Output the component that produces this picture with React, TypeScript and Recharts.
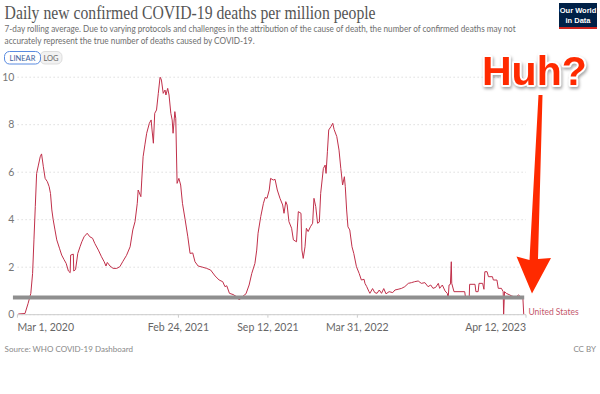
import { CartesianGrid, Line, LineChart, ReferenceLine, XAxis, YAxis } from 'recharts';

// days since Mar 1, 2020 (as drawn on the axis)
const days = [
  2, 17, 24, 30, 34, 37, 40, 43, 47, 51, 54, 58, 62, 67, 71, 74, 77, 80, 84, 88, 94, 99, 104, 109, 114, 118, 119,
  125, 126, 130, 135, 140, 144, 149, 156, 162, 168, 173, 181, 188, 194, 198, 201, 207, 214, 222, 229, 236, 244, 252,
  258, 263, 268, 270, 276, 278, 281, 285, 289, 295, 299, 301, 304, 307, 311, 315, 319, 322, 326, 330, 332, 336, 339,
  343, 346, 348, 352, 354, 357, 361, 365, 369, 375, 381, 386, 392, 397, 404, 414, 423, 432, 442, 451, 459, 464, 468,
  474, 482, 490, 496, 503, 511, 518, 524, 531, 535, 538, 544, 550, 554, 558, 563, 566, 572, 576, 581, 587, 593, 596,
  600, 603, 607, 613, 617, 624, 628, 634, 636, 639, 643, 646, 650, 655, 660, 663, 667, 671, 675, 678, 684, 688, 690,
  693, 696, 701, 705, 708, 714, 719, 723, 727, 731, 733, 736, 739, 743, 748, 752, 758, 764, 769, 775, 777, 781, 786,
  788, 794, 799, 804, 809, 814, 819, 824, 831, 839, 844, 851, 859, 866, 874, 881, 888, 896, 903, 911, 918, 924, 929,
  935, 941, 944, 950, 956, 961, 963, 965, 968, 970, 971, 976, 1000, 1002, 1010, 1011, 1023, 1025, 1030, 1032, 1040,
  1043, 1045, 1050, 1053, 1062, 1064, 1072, 1075, 1082, 1086, 1087, 1089, 1093, 1104, 1114, 1120, 1127, 1130, 1132,
];

// daily deaths per million, 7-day average
const deaths = [
  0.03, 0.05, 0.48, 0.9, 1.74, 3.15, 4.55, 5.95, 6.3, 6.65, 6.77, 6.23, 5.74, 5.6, 5.39, 5.1, 4.41, 4.0, 3.57, 3.15,
  2.8, 2.51, 2.33, 2.16, 1.84, 1.77, 2.51, 2.55, 1.84, 1.9, 2.58, 2.86, 3.07, 3.28, 3.43, 3.28, 3.22, 3.0, 2.72, 2.44,
  2.23, 2.05, 2.2, 2.05, 1.95, 1.95, 2.02, 2.25, 2.5, 2.86, 3.57, 3.92, 4.69, 5.25, 4.97, 5.67, 6.65, 7.15, 7.64, 8.06,
  8.2, 7.78, 7.22, 8.48, 8.62, 9.32, 10.02, 9.88, 9.32, 9.46, 9.25, 9.53, 9.25, 8.48, 8.2, 7.64, 8.55, 8.27, 5.53,
  5.74, 5.46, 4.69, 4.0, 3.28, 2.58, 2.6, 2.23, 2.05, 2.0, 1.95, 1.88, 1.63, 1.46, 1.39, 1.18, 1.22, 0.9, 0.85, 0.76,
  0.62, 0.76, 0.88, 1.25, 1.74, 2.16, 2.72, 3.43, 4.13, 4.69, 4.94, 4.9, 5.25, 5.74, 5.67, 5.7, 5.25, 4.9, 4.62, 4.27,
  4.76, 4.62, 3.92, 3.64, 3.15, 3.07, 4.34, 4.27, 2.72, 2.37, 2.86, 3.64, 3.5, 3.7, 3.85, 4.9, 4.55, 3.85, 3.9, 5.11,
  6.16, 6.3, 5.95, 6.86, 7.78, 7.92, 8.06, 7.8, 7.5, 6.93, 6.16, 5.46, 5.81, 5.39, 4.41, 3.7, 3.57, 2.86, 2.58, 2.02,
  1.74, 1.46, 1.49, 1.32, 1.18, 0.97, 0.9, 1.1, 0.93, 0.9, 1.04, 0.9, 1.1, 0.88, 0.97, 0.93, 1.04, 1.07, 1.11, 1.18,
  1.32, 1.35, 1.39, 1.42, 1.32, 1.35, 1.18, 1.25, 1.11, 1.15, 1.32, 1.11, 1.25, 1.0, 0.9, 0.69, 1.25, 1.28, 2.23,
  1.32, 0.97, 0.97, 0.69, 0.69, 1.28, 1.28, 0.97, 0.97, 1.32, 1.32, 1.07, 1.81, 1.81, 1.6, 1.6, 1.46, 1.46, 1.11,
  1.11, 0.97, 0, 0.97, 0.9, 0.8, 0.72, 0.83, 0.72, 0.72, 0,
];

const yTicks = [0, 2, 4, 6, 8, 10];
const xTickDays = [0, 360, 560, 760, 1137];
const xTickLabels = ['Mar 1, 2020', 'Feb 24, 2021', 'Sep 12, 2021', 'Mar 31, 2022', 'Apr 12, 2023'];
const markedLevel = 0.72;
const markedFrom = -10;
const markedTo = 1133;

const chartData = days.map((day, i) => ({ day, deaths: deaths[i] }));

const LINE_COLOR = '#c0304a';
const ARROW_RED = '#ff2a00';
const SANS = 'Lato, "Noto Sans", sans-serif';

function DateTick(props: any) {
  const { x, y, payload, index } = props;
  const anchor = index === 0 ? 'start' : index === xTickDays.length - 1 ? 'end' : 'middle';
  const label = xTickLabels[xTickDays.indexOf(payload.value)] ?? '';
  return (
    <text x={x} y={y} dy="0.71em" textAnchor={anchor} fill="#666" fontSize={10.5} fontFamily={SANS}>
      {label}
    </text>
  );
}

export default function App() {
  return (
    <div style={{ position: 'absolute', left: 0, top: 0, width: 600, height: 394, background: '#fff', overflow: 'hidden' }}>
      <LineChart
        width={600}
        height={394}
        data={chartData}
        margin={{ top: 77.2, right: 74, bottom: 49.3, left: 0 }}
      >
        <CartesianGrid vertical={false} stroke="#ddd" strokeDasharray="1.5 2.5" />
        <XAxis
          dataKey="day"
          type="number"
          domain={[0, 1137]}
          ticks={xTickDays}
          tick={<DateTick />}
          interval={0}
          height={30}
          tickSize={3}
          tickMargin={6}
          stroke="#ccc"
        />
        <YAxis
          domain={[0, 10]}
          allowDataOverflow
          ticks={yTicks}
          width={17.4}
          tickLine={false}
          axisLine={false}
          tickSize={0}
          tickMargin={3}
          tick={{ fill: '#777', fontSize: 10.5, fontFamily: SANS }}
        />
        <Line
          type="linear"
          dataKey="deaths"
          stroke={LINE_COLOR}
          strokeWidth={1}
          dot={false}
          isAnimationActive={false}
        />
        <ReferenceLine
          segment={[
            { x: markedFrom, y: markedLevel },
            { x: markedTo, y: markedLevel },
          ]}
          ifOverflow="visible"
          stroke="#8f8f8f"
          strokeWidth={4}
        />
      </LineChart>

      <svg width={600} height={394} style={{ position: 'absolute', left: 0, top: 0, pointerEvents: 'none' }}>
        <text x={4.6} y={19} fill="#555" fontSize={18.5} fontFamily='"Liberation Serif", serif' textLength={371} lengthAdjust="spacingAndGlyphs">
          Daily new confirmed COVID-19 deaths per million people
        </text>
        <text x={4.6} y={32} fill="#6e6e6e" fontSize={9.3} fontFamily={SANS} textLength={511} lengthAdjust="spacingAndGlyphs">
          7-day rolling average. Due to varying protocols and challenges in the attribution of the cause of death, the number of confirmed deaths may not
        </text>
        <text x={4.6} y={43.5} fill="#6e6e6e" fontSize={9.3} fontFamily={SANS} textLength={250} lengthAdjust="spacingAndGlyphs">
          accurately represent the true number of deaths caused by COVID-19.
        </text>

        <rect x={40} y={51.5} width={22} height={12.5} rx={5} fill="#f2f2f2" stroke="#ddd" />
        <rect x={4.5} y={51.5} width={36} height={12.5} rx={5} fill="#fff" stroke="#5a8be0" />
        <text x={22.5} y={60.5} textAnchor="middle" fill="#3d5e9c" fontSize={7.5} fontFamily={SANS}>LINEAR</text>
        <text x={51} y={60.5} textAnchor="middle" fill="#666" fontSize={7.5} fontFamily={SANS}>LOG</text>

        <rect x={559} y={3} width={38} height={26} fill="#002147" />
        <rect x={559} y={27} width={38} height={2} fill="#ce261e" />
        <text x={578} y={13} textAnchor="middle" fill="#fff" fontSize={7.5} fontWeight={700} fontFamily='"Liberation Sans", sans-serif'>Our World</text>
        <text x={578} y={22.5} textAnchor="middle" fill="#fff" fontSize={7.5} fontWeight={700} fontFamily='"Liberation Sans", sans-serif'>in Data</text>

        <text x={528.5} y={314.5} fill="#c4566b" fontSize={8.5} fontFamily={SANS}>United States</text>

        <text x={4.6} y={352} fill="#888" fontSize={8} fontFamily={SANS}>Source: WHO COVID-19 Dashboard</text>
        <text x={596} y={352} textAnchor="end" fill="#888" fontSize={8} fontFamily={SANS}>CC BY</text>

        <polygon
          points="538.5,95 542.5,95 538,259 551,258 532,293.5 516.5,256.5 529.5,260"
          fill={ARROW_RED}
        />
        <text
          x={482}
          y={85}
          fill={ARROW_RED}
          stroke="#fff"
          strokeWidth={4}
          paintOrder="stroke"
          strokeLinejoin="round"
          fontSize={41}
          fontWeight={700}
          fontFamily='"Liberation Sans", Arial, sans-serif'
          style={{ filter: 'drop-shadow(1px 2px 1.5px rgba(0,0,0,0.35))' }}
        >
          Huh?
        </text>
      </svg>
    </div>
  );
}
